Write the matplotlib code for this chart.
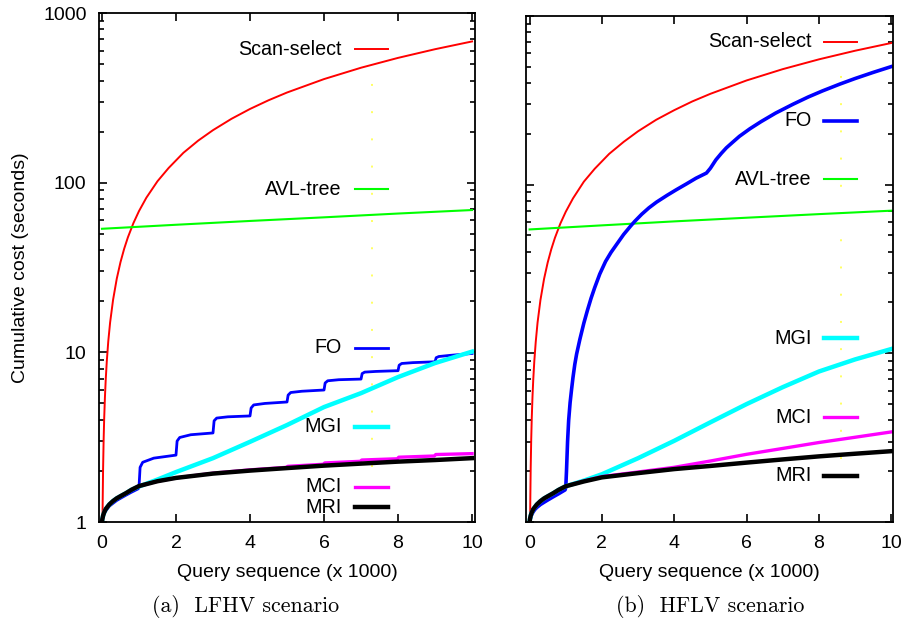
import matplotlib
matplotlib.use("Agg")
import matplotlib.pyplot as plt
from matplotlib.ticker import LogLocator, NullFormatter, FixedLocator

plt.rcParams["font.family"] = ["Liberation Sans", "DejaVu Sans"]

# ---- datos panel (a) LFHV ----
a_scan_x = [0.014, 0.02, 0.03, 0.045, 0.06, 0.08, 0.1, 0.13, 0.17, 0.22, 0.3, 0.4, 0.5, 0.6, 0.7,
            0.85, 1, 1.2, 1.5, 1.8, 2.2, 2.6, 3, 3.5, 4, 4.5, 5, 6, 7, 8, 9, 10]
a_scan_y = [1.0, 1.36, 2.04, 3.06, 4.08, 5.44, 6.8, 8.84, 11.6, 15.0, 20.4, 27.2, 34, 40.8, 47.6,
            57.8, 68, 81.6, 102, 122, 150, 177, 204, 238, 272, 306, 340, 408, 476, 544, 612, 680]
a_avl_x = [0, 2, 4, 6, 8, 10]
a_avl_y = [53.5, 56.5, 59.5, 62.5, 65.8, 69]
a_fo_x = [0, 0.01, 0.03, 0.06, 0.1, 0.15, 0.2, 0.3, 0.4, 0.5, 0.65, 0.8, 0.98,
          1.0, 1.03, 1.1, 1.4, 2.0,
          2.03, 2.1, 2.4, 3.0,
          3.03, 3.1, 3.4, 4.0,
          4.03, 4.1, 4.4, 5.0,
          5.03, 5.1, 5.4, 6.0,
          6.03, 6.1, 6.4, 7.0,
          7.03, 7.1, 7.4, 8.0,
          8.03, 8.1, 8.4, 9.0,
          9.03, 9.1, 9.4, 10.0]
a_fo_y = [1.0, 1.03, 1.08, 1.12, 1.16, 1.2, 1.24, 1.29, 1.34, 1.38, 1.44, 1.5, 1.57,
          1.6, 2.1, 2.25, 2.38, 2.48,
          3.0, 3.15, 3.27, 3.35,
          3.95, 4.1, 4.17, 4.22,
          4.7, 4.9, 5.0, 5.1,
          5.6, 5.8, 5.9, 6.0,
          6.6, 6.8, 6.9, 6.96,
          7.5, 7.65, 7.72, 7.8,
          8.4, 8.6, 8.7, 8.8,
          9.3, 9.45, 9.6, 9.85]
a_mgi_x = [0, 0.01, 0.03, 0.06, 0.1, 0.15, 0.2, 0.3, 0.4, 0.5, 0.65, 0.8, 1.0,
           1.5, 2, 3, 4, 5, 6, 7, 8, 9, 10]
a_mgi_y = [1.0, 1.04, 1.09, 1.14, 1.19, 1.23, 1.27, 1.33, 1.38, 1.42, 1.48, 1.55, 1.62,
           1.78, 1.97, 2.38, 2.97, 3.73, 4.76, 5.75, 7.15, 8.65, 10.1]
a_mci_x = [0, 0.01, 0.03, 0.06, 0.1, 0.15, 0.2, 0.3, 0.4, 0.5, 0.65, 0.8, 1.0,
           1.5, 2, 3, 4, 4.98, 5.02, 5.98, 6.02, 6.98, 7.02, 7.98, 8.02, 8.98, 9.02, 10]
a_mci_y = [1.0, 1.04, 1.09, 1.14, 1.19, 1.23, 1.27, 1.33, 1.38, 1.42, 1.48, 1.55, 1.63,
           1.74, 1.82, 1.94, 2.03, 2.1, 2.13, 2.19, 2.23, 2.28, 2.32, 2.36, 2.41, 2.45, 2.5, 2.53]
a_mri_x = [0, 0.01, 0.03, 0.06, 0.1, 0.15, 0.2, 0.3, 0.4, 0.5, 0.65, 0.8, 1.0,
           1.5, 2, 3, 4, 5, 6, 7, 8, 9, 10]
a_mri_y = [1.0, 1.04, 1.09, 1.14, 1.19, 1.23, 1.27, 1.33, 1.38, 1.42, 1.48, 1.55, 1.63,
           1.74, 1.82, 1.93, 2.01, 2.08, 2.15, 2.21, 2.27, 2.32, 2.38]

# ---- datos panel (b) HFLV ----
b_scan_x = [0.014, 0.02, 0.03, 0.045, 0.06, 0.08, 0.1, 0.13, 0.17, 0.22, 0.3, 0.4, 0.5, 0.6, 0.7,
            0.85, 1, 1.2, 1.5, 1.8, 2.2, 2.6, 3, 3.5, 4, 4.5, 5, 6, 7, 8, 9, 10]
b_scan_y = [1.0, 1.38, 2.07, 3.1, 4.14, 5.52, 6.9, 8.97, 11.7, 15.2, 20.7, 27.6, 34.5, 41.4, 48.3,
            58.7, 69, 82.8, 104, 124, 152, 179, 207, 242, 276, 311, 345, 414, 483, 552, 621, 690]
b_avl_x = [0, 2, 4, 6, 8, 10]
b_avl_y = [54.2, 57.3, 60.5, 63.6, 66.8, 70]
b_fo_x = [0, 0.01, 0.03, 0.06, 0.1, 0.15, 0.2, 0.3, 0.4, 0.5, 0.65, 0.8, 0.98,
          1.0, 1.02, 1.05, 1.08, 1.12, 1.16, 1.2, 1.25, 1.3, 1.39, 1.5, 1.6, 1.7, 1.8, 1.94,
          2.1, 2.25, 2.4, 2.6, 2.8, 2.91, 3.1, 3.3, 3.51, 3.8, 4.05, 4.34, 4.6, 4.89,
          5.0, 5.15, 5.3, 5.44, 5.6, 5.8, 6.09, 6.4, 6.8, 7.28, 7.7, 8.1, 8.58, 9.0, 9.5, 10]
b_fo_y = [1.0, 1.03, 1.07, 1.11, 1.15, 1.19, 1.22, 1.27, 1.31, 1.35, 1.41, 1.47, 1.55,
          1.6, 2.0, 3.0, 4.0, 5.1, 6.1, 7.2, 8.6, 9.9, 12.1, 15.1, 18.0, 21.2, 24.5, 29.5,
          35, 39.6, 44, 50.6, 57, 60.6, 66.7, 72.8, 78.7, 86.3, 93, 101, 109, 117,
          125, 140, 153, 165, 177, 193, 214, 236, 265, 299, 330, 359, 394, 425, 462, 500]
b_mgi_x = [0, 0.01, 0.03, 0.06, 0.1, 0.15, 0.2, 0.3, 0.4, 0.5, 0.65, 0.8, 1.0,
           1.2, 1.5, 2, 3, 4, 5, 6, 7, 8, 9, 10]
b_mgi_y = [1.0, 1.04, 1.09, 1.14, 1.19, 1.23, 1.27, 1.33, 1.38, 1.42, 1.48, 1.55, 1.63,
           1.68, 1.76, 1.92, 2.39, 3.03, 3.9, 5.0, 6.3, 7.8, 9.2, 10.6]
b_mci_x = [0, 0.01, 0.03, 0.06, 0.1, 0.15, 0.2, 0.3, 0.4, 0.5, 0.65, 0.8, 1.0,
           1.5, 2, 3, 4, 5, 6, 7, 8, 9, 10]
b_mci_y = [1.0, 1.04, 1.09, 1.14, 1.19, 1.23, 1.27, 1.33, 1.38, 1.42, 1.48, 1.55, 1.63,
           1.75, 1.86, 1.98, 2.11, 2.3, 2.52, 2.73, 2.96, 3.18, 3.42]
b_mri_x = [0, 0.01, 0.03, 0.06, 0.1, 0.15, 0.2, 0.3, 0.4, 0.5, 0.65, 0.8, 1.0,
           1.5, 2, 3, 4, 5, 6, 7, 8, 9, 10]
b_mri_y = [1.0, 1.04, 1.09, 1.14, 1.19, 1.23, 1.27, 1.33, 1.38, 1.42, 1.48, 1.55, 1.63,
           1.74, 1.84, 1.95, 2.06, 2.15, 2.25, 2.35, 2.45, 2.54, 2.63]

x_ticks = [0, 2, 4, 6, 8, 10]
y_ticks = [1, 10, 100, 1000]
y_ticklabels = ["1", "10", "100", "1000"]

series_a = [
    ("Scan-select", a_scan_x, a_scan_y, "#ff0000", 1.4),
    ("AVL-tree", a_avl_x, a_avl_y, "#00ff00", 1.5),
    ("FO", a_fo_x, a_fo_y, "#0000ff", 2.0),
    ("MGI", a_mgi_x, a_mgi_y, "#00ffff", 3.2),
    ("MCI", a_mci_x, a_mci_y, "#ff00ff", 2.4),
    ("MRI", a_mri_x, a_mri_y, "#000000", 3.2),
]
series_b = [
    ("Scan-select", b_scan_x, b_scan_y, "#ff0000", 1.4),
    ("AVL-tree", b_avl_x, b_avl_y, "#00ff00", 1.5),
    ("FO", b_fo_x, b_fo_y, "#0000ff", 2.6),
    ("MGI", b_mgi_x, b_mgi_y, "#00ffff", 3.2),
    ("MCI", b_mci_x, b_mci_y, "#ff00ff", 2.4),
    ("MRI", b_mri_x, b_mri_y, "#000000", 3.2),
]

# posiciones de las etiquetas (estilo gnuplot), en fraccion de ejes
key_a = {"text_x": 0.646, "line": (0.681, 0.769),
         "y": {"Scan-select": 0.929, "AVL-tree": 0.654, "FO": 0.342,
               "MGI": 0.187, "MCI": 0.069, "MRI": 0.029},
         "dots": (0.726, 0.108, 0.892)}
key_b = {"text_x": 0.779, "line": (0.812, 0.902),
         "y": {"Scan-select": 0.949, "FO": 0.793, "AVL-tree": 0.677,
               "MGI": 0.363, "MCI": 0.207, "MRI": 0.091},
         "dots": (0.858, 0.124, 0.909)}

fig = plt.figure(figsize=(9.1, 6.2), dpi=100)
ax_a = fig.add_axes([0.1088, 0.158, 0.4132, 0.821])
ax_b = fig.add_axes([0.578, 0.158, 0.403, 0.8165])


def dibujar(ax, series, key, xlim):
    # linea punteada amarilla (artefacto del original)
    dx, dy0, dy1 = key["dots"]
    ax.plot([dx, dx], [dy0, dy1], transform=ax.transAxes, color="#ffff60",
            lw=1.4, linestyle=(0, (1, 13)), zorder=1)
    for nombre, xs, ys, col, lw in series:
        ax.plot(xs, ys, color=col, lw=lw, solid_joinstyle="round", zorder=2)
        yk = key["y"][nombre]
        ax.text(key["text_x"], yk, nombre, transform=ax.transAxes, ha="right",
                va="center", fontsize=14.2)
        ax.plot(list(key["line"]), [yk, yk], transform=ax.transAxes, color=col,
                lw=lw, zorder=3)
    ax.set_yscale("log")
    ax.set_ylim(1, 1000)
    ax.set_xlim(*xlim)
    ax.xaxis.set_major_locator(FixedLocator(x_ticks))
    ax.yaxis.set_major_locator(FixedLocator(y_ticks))
    ax.yaxis.set_minor_locator(LogLocator(base=10, subs=range(2, 10)))
    ax.yaxis.set_minor_formatter(NullFormatter())
    ax.tick_params(which="both", direction="in", top=True, right=True,
                   labelsize=14, width=1.2)
    ax.tick_params(which="major", length=6, pad=9)
    ax.tick_params(which="minor", length=3.5)
    for s in ax.spines.values():
        s.set_linewidth(1.3)
    ax.set_xlabel("Query sequence (x 1000)", fontsize=14, labelpad=9)


dibujar(ax_a, series_a, key_a, (-0.08, 10.08))
dibujar(ax_b, series_b, key_b, (-0.1, 10.04))

ax_a.set_yticklabels(y_ticklabels)
ax_b.set_yticklabels([])
ax_a.set_ylabel("Cumulative cost (seconds)", fontsize=14, labelpad=10)

# subtitulos
fig.text(0.2695, 0.021, "(a)  LFHV scenario", ha="center", va="center",
         fontsize=15.8, family=["cmr10", "DejaVu Serif"])
fig.text(0.78, 0.021, "(b)  HFLV scenario", ha="center", va="center",
         fontsize=15.8, family=["cmr10", "DejaVu Serif"])

fig.savefig("out.png", dpi=100)
